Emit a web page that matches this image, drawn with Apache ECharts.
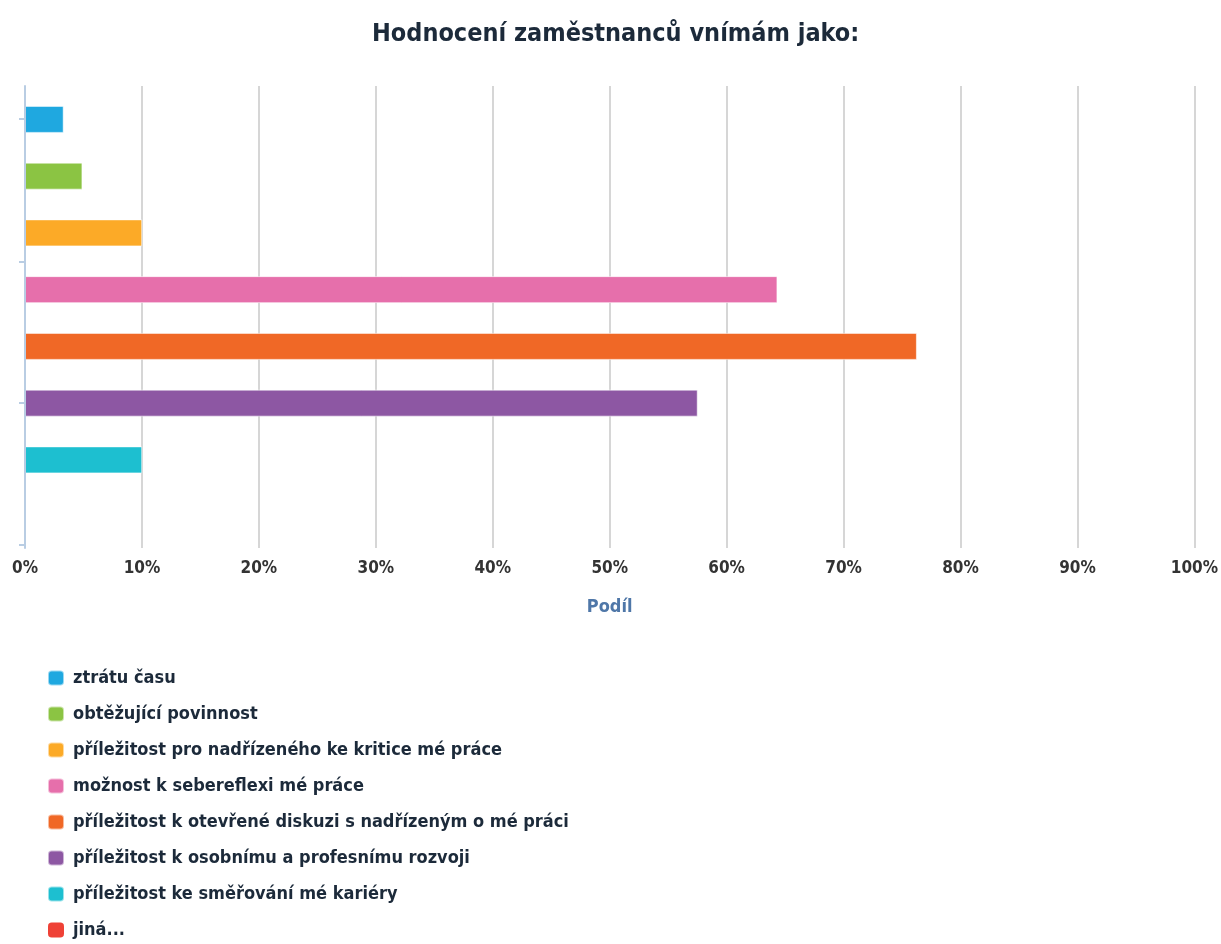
<!DOCTYPE html>
<html>
<head>
<meta charset="utf-8">
<title>Hodnocení zaměstnanců</title>
<script src="https://cdn.jsdelivr.net/npm/echarts@6/dist/echarts.min.js"></script>
<style>
  html, body { margin: 0; padding: 0; background: #ffffff; }
  #chart { width: 1221px; height: 944px; }
</style>
</head>
<body>
<div id="chart"></div>
<script>
// Answer options (also used as legend entries)
const answers = [
  'ztrátu času',
  'obtěžující povinnost',
  'příležitost pro nadřízeného ke kritice mé práce',
  'možnost k sebereflexi mé práce',
  'příležitost k otevřené diskuzi s nadřízeným o mé práci',
  'příležitost k osobnímu a profesnímu rozvoji',
  'příležitost ke směřování mé kariéry',
  'jiná...'
];
// Share of respondents, in percent
const shares = [3.3, 4.9, 10, 64.2, 76.1, 57.4, 10, 0];
const colors = ['#1fa8e0', '#8bc443', '#fcaa27', '#e66fab', '#f06826', '#8d57a3', '#1dbfd0', '#ef4136'];
// Tick positions on the left axis line (fraction of plot height)
const leftTicks = [0.071, 0.381, 0.686, 0.994];

const FONT = '"DejaVu Sans Condensed", "Liberation Sans Narrow", "Liberation Sans", sans-serif';
const LEFT = 25, RIGHT = 24;

const series = answers.map((name, i) => ({
  name: name,
  type: 'bar',
  stack: 'one',
  xAxisIndex: 1,
  yAxisIndex: 1,
  barWidth: 27,
  z: 2,
  itemStyle: {
    color: colors[i],
    borderColor: 'rgba(255,255,255,0.55)',
    borderWidth: shares[i] > 0 ? 1 : 0
  },
  data: answers.map((_, j) => (j === i ? shares[i] : '-'))
}));

const chart = echarts.init(document.getElementById('chart'), null, { renderer: 'canvas' });
chart.setOption({
  animation: false,
  backgroundColor: '#ffffff',
  color: colors,
  title: {
    text: 'Hodnocení zaměstnanců vnímám jako:',
    left: 367,
    top: 17,
    textStyle: { fontFamily: FONT, fontSize: 25, fontWeight: 'bold', color: '#1c2a3a' }
  },
  legend: {
    orient: 'vertical',
    left: 42,
    top: 664,
    height: 280,
    icon: 'roundRect',
    itemWidth: 16,
    itemHeight: 15,
    itemGap: 18,
    data: answers,
    textStyle: { fontFamily: FONT, fontSize: 18, fontWeight: 'bold', color: '#1c2a3a', padding: [0, 0, 0, 4] }
  },
  grid: [
    { left: LEFT, right: RIGHT, top: 86, height: 462 },
    { left: LEFT, right: RIGHT, top: 91, height: 454 }
  ],
  xAxis: [
    {
      gridIndex: 0,
      type: 'value',
      min: 0, max: 100, interval: 10,
      name: 'Podíl',
      nameLocation: 'middle',
      nameGap: 50,
      nameTextStyle: { fontFamily: FONT, fontSize: 18, fontWeight: 'bold', color: '#4f77a8' },
      axisLine: { show: false },
      axisTick: { show: false },
      axisLabel: { margin: 12, fontFamily: FONT, fontSize: 17, fontWeight: 'bold', color: '#333333', formatter: '{value}%' },
      splitLine: { show: true, lineStyle: { color: '#c9c9c9', width: 1.5 } }
    },
    { gridIndex: 1, type: 'value', min: 0, max: 100, show: false }
  ],
  yAxis: [
    {
      gridIndex: 0,
      type: 'value',
      inverse: true,
      min: 0, max: 1,
      z: 5,
      axisLine: { show: true, lineStyle: { color: '#b9cde3', width: 2 } },
      axisTick: { show: true, length: 6, customValues: leftTicks, lineStyle: { color: '#b9cde3', width: 2 } },
      axisLabel: { show: false },
      splitLine: { show: false }
    },
    {
      gridIndex: 1,
      type: 'category',
      inverse: true,
      data: answers,
      show: false
    }
  ],
  series: series
});
</script>
</body>
</html>
